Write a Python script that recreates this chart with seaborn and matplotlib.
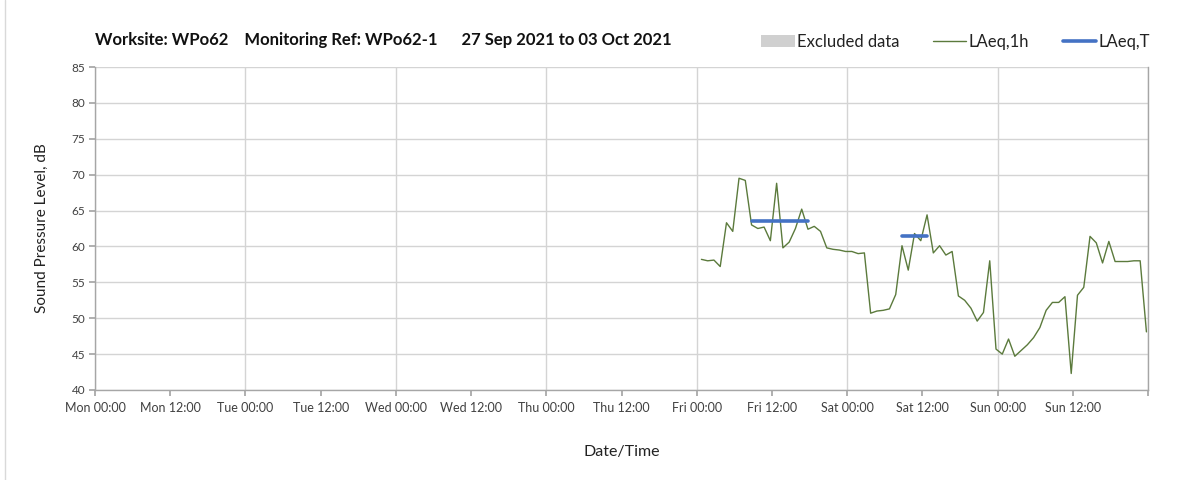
import numpy as np
import pandas as pd
import matplotlib
matplotlib.use("Agg")
import matplotlib.pyplot as plt
import matplotlib.dates as mdates
from matplotlib.lines import Line2D
from matplotlib.patches import Patch
import seaborn as sns

# ---- data ----
laeq_1h_start = "2021-10-01 00:45"
laeq_1h = [58.2, 58.0, 58.1, 57.2, 63.3, 62.1, 69.5, 69.2, 63.0, 62.5,
           62.7, 60.8, 68.8, 59.8, 60.6, 62.5, 65.2, 62.4, 62.8, 62.1,
           59.8, 59.6, 59.5, 59.3, 59.3, 59.0, 59.1, 50.7, 51.0, 51.1,
           51.3, 53.3, 60.1, 56.7, 61.8, 60.8, 64.4, 59.1, 60.1, 58.8,
           59.3, 53.1, 52.5, 51.4, 49.6, 50.8, 58.0, 45.7, 45.0, 47.1,
           44.7, 45.5, 46.3, 47.3, 48.7, 51.1, 52.2, 52.2, 53.0, 42.3,
           53.2, 54.3, 61.4, 60.5, 57.7, 60.7, 57.9, 57.9, 57.9, 58.0,
           58.0, 48.1]
laeq_t_start = ["2021-10-01 08:45", "2021-10-02 08:45"]
laeq_t_end = ["2021-10-01 17:45", "2021-10-02 12:45"]
laeq_t = [63.6, 61.5]

x_start = "2021-09-27 00:00"
x_end = "2021-10-04 00:00"
y_ticks = [40, 45, 50, 55, 60, 65, 70, 75, 80, 85]
title = "Worksite: WPo62    Monitoring Ref: WPo62-1      27 Sep 2021 to 03 Oct 2021"

df = pd.DataFrame({
    "time": pd.date_range(laeq_1h_start, periods=len(laeq_1h), freq="h"),
    "LAeq,1h": laeq_1h,
})
rows = []
for i, (s, e, v) in enumerate(zip(laeq_t_start, laeq_t_end, laeq_t)):
    rows.append({"time": pd.Timestamp(s), "val": v, "seg": i})
    rows.append({"time": pd.Timestamp(e), "val": v, "seg": i})
dft = pd.DataFrame(rows)

# ---- style ----
sns.set_theme(style="white")
plt.rcParams["font.family"] = ["Lato", "DejaVu Sans"]

fig = plt.figure(figsize=(12.03, 4.80), dpi=100)
ax = fig.add_axes([95/1203, 90/480, (1148-95)/1203, (390-67)/480])

green = "#5b7a3c"
blue = "#4472c4"
grid_c = "#d4d4d4"
spine_c = "#a6a6a6"
text_c = "#404040"

sns.lineplot(data=df, x="time", y="LAeq,1h", ax=ax, color=green, lw=1.0, legend=False)
sns.lineplot(data=dft, x="time", y="val", units="seg", estimator=None, ax=ax,
             color=blue, lw=2.6, legend=False)

ax.set_xlim(pd.Timestamp(x_start), pd.Timestamp(x_end))
ax.set_ylim(40, 85)
ax.set_yticks(y_ticks)
ax.xaxis.set_major_locator(mdates.HourLocator(byhour=[0, 12]))
ax.xaxis.set_major_formatter(mdates.DateFormatter("%a %H:%M"))

# vertical gridlines at day boundaries, horizontal every 5 dB
for d in pd.date_range(x_start, x_end, freq="D"):
    ax.axvline(d, color=grid_c, lw=1.0, zorder=0)
for y in y_ticks:
    ax.axhline(y, color=grid_c, lw=1.0, zorder=0)

ax.spines["top"].set_visible(False)
for s in ["left", "bottom", "right"]:
    ax.spines[s].set_color(spine_c)
    ax.spines[s].set_linewidth(1.0)

ax.tick_params(axis="x", which="major", direction="out", length=4,
               color=spine_c, labelsize=9, labelcolor=text_c, pad=5, bottom=True)
ax.tick_params(axis="y", which="major", direction="out", length=4,
               color=spine_c, labelsize=8.5, labelcolor=text_c, pad=3, left=True)
fig.canvas.draw()
xt = ax.get_xticklabels()
xt[-1].set_visible(False)

ax.set_xlabel("Date/Time", fontsize=11.5, color="#222222", labelpad=22)
ax.set_ylabel("Sound Pressure Level, dB", fontsize=11, color="#222222", labelpad=16)

fig.text(95/1203, 1 - 40/480, title, fontsize=12, fontweight="bold",
         color="#111111", va="center", ha="left")

handles = [Patch(facecolor="#d0d0d0", edgecolor="none"),
           Line2D([], [], color=green, lw=1.0),
           Line2D([], [], color=blue, lw=2.6)]
fig.legend(handles, ["Excluded data", "LAeq,1h", "LAeq,T"],
           loc="center right", bbox_to_anchor=(1165/1203, 1 - 42/480),
           ncol=3, frameon=False, fontsize=12, handlelength=2.0,
           handletextpad=0.15, columnspacing=2.0, labelcolor="#222222")

fig.add_artist(Line2D([5/1203, 5/1203], [0, 1], transform=fig.transFigure,
                      color="#d9d9d9", lw=1.0))

fig.savefig("out.png", dpi=100)
